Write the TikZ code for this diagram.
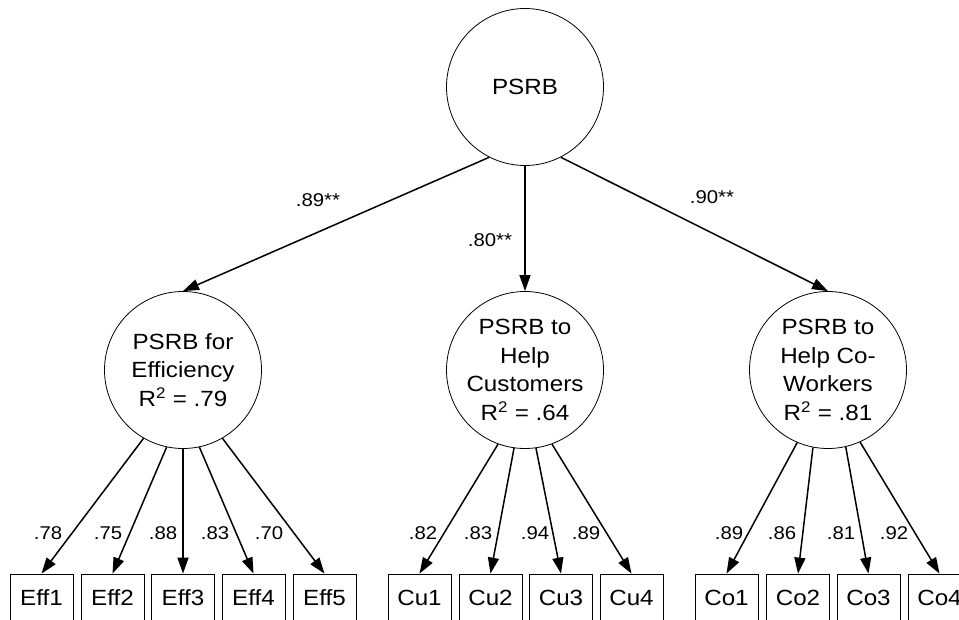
\documentclass[tikz,border=0pt]{standalone}
\usepackage{fontspec}
\setmainfont{Liberation Sans}[FakeStretch=1.1]
\usetikzlibrary{arrows.meta}
\tikzstyle{cn}=[shape=circle,draw,minimum size=157pt,inner sep=0pt,align=center,line width=0.8pt,font=\fontsize{22}{28.5}\selectfont]
\tikzstyle{ind}=[shape=rectangle,draw,minimum width=63pt,minimum height=48pt,inner sep=0pt,line width=0.8pt,font=\fontsize{22}{26}\selectfont]
\tikzstyle{ld}=[inner sep=1pt,font=\fontsize{18.5}{22}\selectfont]
\tikzstyle{to}=[-{Triangle[length=16pt,width=11pt]},line width=1.5pt]

\begin{document}
\begin{tikzpicture}[x=1pt,y=-1pt]
            \useasboundingbox (0,0) rectangle (959,620);
            \node[cn] (psrb) at (525, 87) {PSRB}
            ;
            \node[cn] (eff) at (183, 370) {PSRB for\\Efficiency\\R\textsuperscript{2} = .79}
            ;
            \node[cn] (cu) at (525, 370) {PSRB to\\Help\\Customers\\R\textsuperscript{2} = .64}
            ;
            \node[cn] (co) at (828, 370) {PSRB to\\Help Co-\\Workers\\R\textsuperscript{2} = .81}
            ;
            \draw[to] (psrb.243) -- (eff.north);
            \draw[to] (psrb.south) -- (cu.north);
            \draw[to] (psrb.297) -- (co.north);
            \node[ld] (l89) at (318, 200) {.89**};
            \node[ld] (l80) at (490, 240) {.80**};
            \node[ld] (l90) at (712, 197) {.90**};

            \node[ind] (e1) at (41.5, 598) {Eff1};
            \node[ind] (e2) at (112.5, 598) {Eff2};
            \node[ind] (e3) at (183, 598) {Eff3};
            \node[ind] (e4) at (253.5, 598) {Eff4};
            \node[ind] (e5) at (324.5, 598) {Eff5};
            \draw[to] (eff.240) -- (e1.north);
            \draw[to] (eff.258) -- (e2.north);
            \draw[to] (eff.south) -- (e3.north);
            \draw[to] (eff.282) -- (e4.north);
            \draw[to] (eff.300) -- (e5.north);
            \node[ld] (le1) at (48, 533) {.78};
            \node[ld] (le2) at (108, 533) {.75};
            \node[ld] (le3) at (163, 533) {.88};
            \node[ld] (le4) at (215, 533) {.83};
            \node[ld] (le5) at (269, 533) {.70};

            \node[ind] (u1) at (419.5, 598) {Cu1};
            \node[ind] (u2) at (490.5, 598) {Cu2};
            \node[ind] (u3) at (561, 598) {Cu3};
            \node[ind] (u4) at (631.5, 598) {Cu4};
            \draw[to] (cu.250) -- (u1.north);
            \draw[to] (cu.262) -- (u2.north);
            \draw[to] (cu.278) -- (u3.north);
            \draw[to] (cu.290) -- (u4.north);
            \node[ld] (lu1) at (423, 533) {.82};
            \node[ld] (lu2) at (478, 533) {.83};
            \node[ld] (lu3) at (535, 533) {.94};
            \node[ld] (lu4) at (586, 533) {.89};

            \node[ind] (o1) at (726.5, 598) {Co1};
            \node[ind] (o2) at (798, 598) {Co2};
            \node[ind] (o3) at (868.5, 598) {Co3};
            \node[ind] (o4) at (939.5, 598) {Co4};
            \draw[to] (co.247) -- (o1.north);
            \draw[to] (co.259) -- (o2.north);
            \draw[to] (co.283) -- (o3.north);
            \draw[to] (co.294) -- (o4.north);
            \node[ld] (lo1) at (729, 533) {.89};
            \node[ld] (lo2) at (782, 533) {.86};
            \node[ld] (lo3) at (841, 533) {.81};
            \node[ld] (lo4) at (894, 533) {.92};
        \end{tikzpicture}
\end{document}
